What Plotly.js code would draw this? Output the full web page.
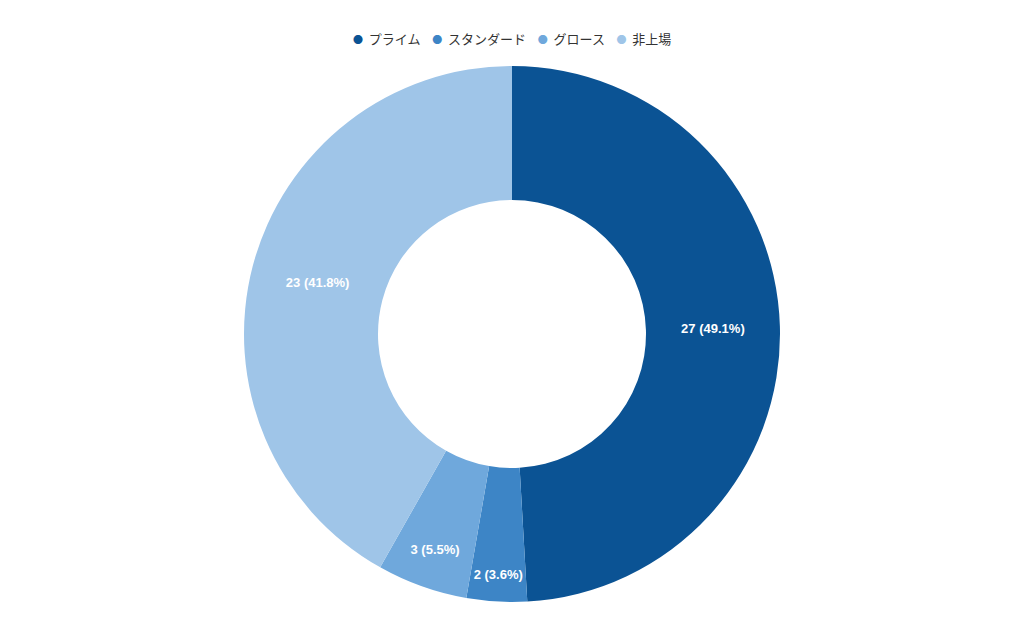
<!DOCTYPE html>
<html>
<head>
<meta charset="utf-8">
<script src="https://cdn.plot.ly/plotly-3.0.1.min.js"></script>
<style>
  html, body { margin: 0; padding: 0; background: #fff; }
  #chart { width: 1024px; height: 634px; }
</style>
</head>
<body>
<div id="chart"></div>
<script>
const marketLabels = ["プライム", "スタンダード", "グロース", "非上場"];
const companyCounts = [27, 2, 3, 23];
const sliceColors = ["#0b5394", "#3d85c6", "#6fa8dc", "#9fc5e8"];

const donutTrace = {
  type: "pie",
  labels: marketLabels,
  values: companyCounts,
  hole: 0.5,
  sort: false,
  direction: "clockwise",
  rotation: 0,
  marker: { colors: sliceColors, line: { width: 0 } },
  texttemplate: "%{value} (%{percent:.1%})",
  textposition: "inside",
  insidetextorientation: "horizontal",
  textfont: { family: "Liberation Sans, Arial, sans-serif", size: 13, color: "#ffffff", weight: "bold" },
  hoverinfo: "none",
  showlegend: false,
};

// legend drawn as one line of text: small round dot + label for each market
const nb = "\u00a0";
const legendText = marketLabels
  .map((label, i) => `<span style="color:${sliceColors[i]};font-size:10px">●</span>${nb}${nb}${label}`)
  .join(nb.repeat(4));

const chartLayout = {
  width: 1024,
  height: 634,
  margin: { l: 0, r: 0, t: 66, b: 32 },
  paper_bgcolor: "#ffffff",
  uniformtext: { mode: "show", minsize: 13 },
  annotations: [
    {
      text: legendText,
      xref: "paper",
      yref: "paper",
      x: 0.5,
      xanchor: "center",
      y: 1.052,
      yanchor: "middle",
      showarrow: false,
      font: { family: "Noto Sans CJK JP, sans-serif", size: 13, color: "#333333" },
    },
  ],
};

Plotly.newPlot("chart", [donutTrace], chartLayout, { displayModeBar: false, staticPlot: true });
</script>
</body>
</html>
